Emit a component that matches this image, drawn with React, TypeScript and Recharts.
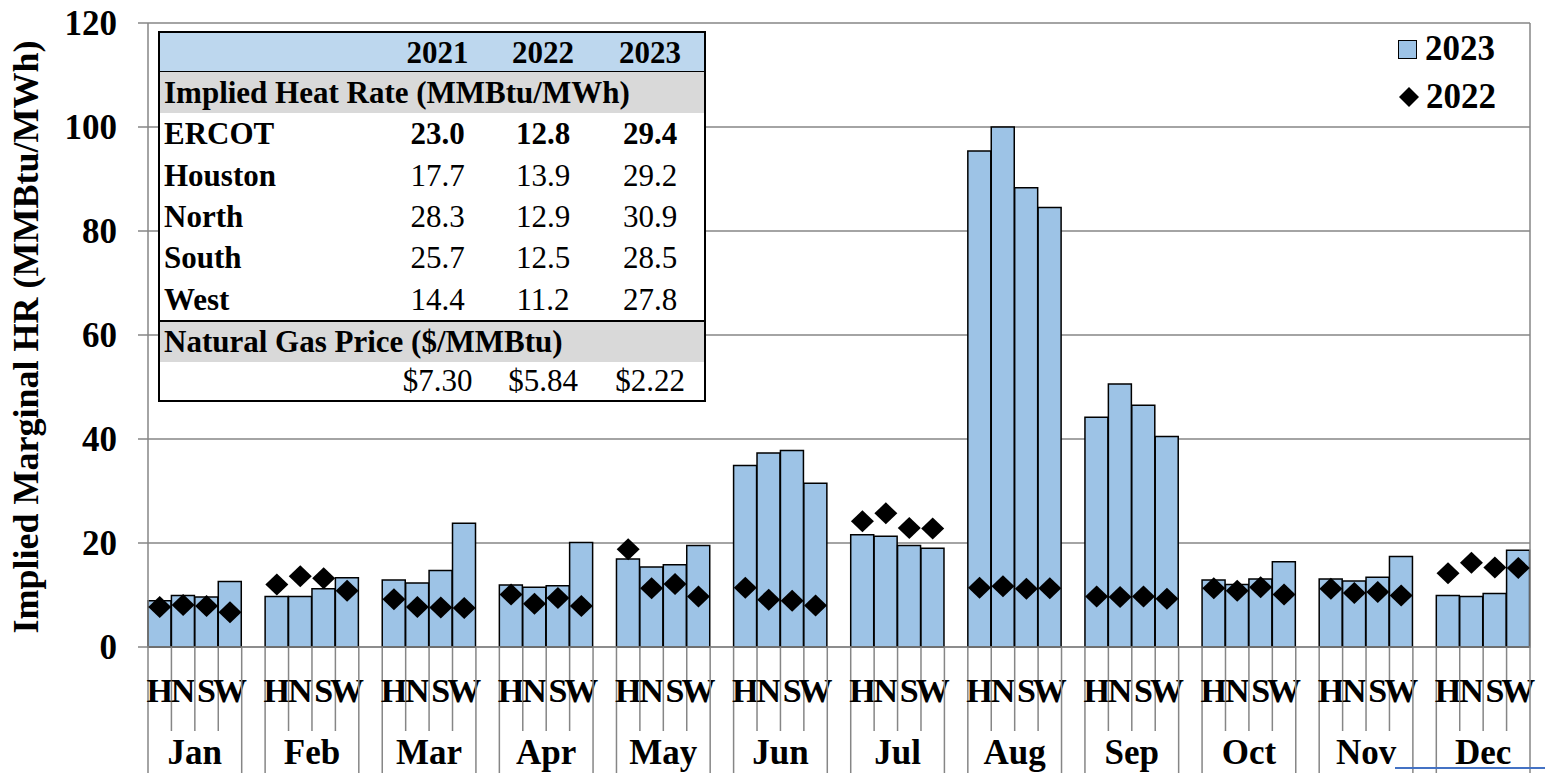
import React from 'react';
import {
  ComposedChart,
  Bar,
  Line,
  XAxis,
  YAxis,
  CartesianGrid,
  ReferenceLine,
  Legend,
  Label,
} from 'recharts';

const FONT = "'Liberation Serif', 'Times New Roman', serif";
const GRID = '#868686';

const months = ['Jan', 'Feb', 'Mar', 'Apr', 'May', 'Jun', 'Jul', 'Aug', 'Sep', 'Oct', 'Nov', 'Dec'];
const zones = ['H', 'N', 'S', 'W'];

// 2023 implied marginal heat rate (bars), one value per month
const houston2023 = [8.9, 9.7, 12.9, 11.9, 16.9, 34.9, 21.6, 95.4, 44.2, 12.9, 13.1, 9.9];
const north2023 = [9.9, 9.7, 12.3, 11.5, 15.4, 37.3, 21.3, 100.0, 50.6, 12.0, 12.7, 9.7];
const south2023 = [9.6, 11.2, 14.7, 11.8, 15.8, 37.8, 19.5, 88.3, 46.5, 13.1, 13.4, 10.3];
const west2023 = [12.6, 13.3, 23.8, 20.1, 19.5, 31.5, 19.0, 84.5, 40.5, 16.4, 17.4, 18.6];

// 2022 (diamonds)
const houston2022 = [7.7, 12.0, 9.2, 10.1, 18.8, 11.4, 24.2, 11.4, 9.7, 11.3, 11.2, 14.2];
const north2022 = [8.1, 13.6, 7.7, 8.3, 11.3, 9.1, 25.7, 11.7, 9.6, 10.8, 10.4, 16.2];
const south2022 = [7.9, 13.2, 7.6, 9.4, 12.1, 8.9, 22.9, 11.2, 9.7, 11.5, 10.6, 15.3];
const west2022 = [6.7, 10.8, 7.5, 7.9, 9.7, 8.0, 22.8, 11.3, 9.3, 10.1, 9.9, 15.2];

const yTicks = [0, 20, 40, 60, 80, 100, 120];

// summary table
const tableYears = ['2021', '2022', '2023'];
const tableRegions = ['ERCOT', 'Houston', 'North', 'South', 'West'];
const heatRates = [
  ['23.0', '12.8', '29.4'],
  ['17.7', '13.9', '29.2'],
  ['28.3', '12.9', '30.9'],
  ['25.7', '12.5', '28.5'],
  ['14.4', '11.2', '27.8'],
];
const gasPrices = ['$7.30', '$5.84', '$2.22'];

const values2023 = [houston2023, north2023, south2023, west2023];
const values2022 = [houston2022, north2022, south2022, west2022];

// 4 zone slots per month plus an empty spacer slot between months
const rows: { slot: number; hr2023: number | null; hr2022: number | null }[] = [];
months.forEach((_, mi) => {
  zones.forEach((_, zi) => {
    rows.push({ slot: mi * 5 + zi, hr2023: values2023[zi][mi], hr2022: values2022[zi][mi] });
  });
  if (mi < months.length - 1) rows.push({ slot: mi * 5 + 4, hr2023: null, hr2022: null });
});
const slotCount = rows.length;
const slotTicks = Array.from({ length: slotCount * 2 + 1 }, (_, i) => i / 2);

function SlotTick(props: any) {
  const { x, y, payload } = props;
  const v = payload.value as number;
  const k = Math.floor(v);
  const pos = k % 5;
  if (Number.isInteger(v)) {
    const edge = pos === 0 || pos === 4;
    const month = pos === 2 ? months[(k - 2) / 5] : null;
    return (
      <g>
        <line x1={x} x2={x} y1={y} y2={y + (edge ? 130 : 84)} stroke={GRID} strokeWidth={1.5} />
        {month && (
          <text x={x} y={y + 117} textAnchor="middle" fontFamily={FONT} fontWeight="bold" fontSize={35} fill="#000">
            {month}
          </text>
        )}
      </g>
    );
  }
  if (pos > 3) return <g />;
  return (
    <text x={x} y={y + 55} textAnchor="middle" fontFamily={FONT} fontWeight="bold" fontSize={34} fill="#000">
      {zones[pos]}
    </text>
  );
}

function DiamondDot(props: any) {
  const { cx, cy } = props;
  if (cx == null || cy == null || Number.isNaN(cy)) return <g />;
  return <path d={`M${cx},${cy - 11} L${cx + 11.5},${cy} L${cx},${cy + 11} L${cx - 11.5},${cy} Z`} fill="#000" />;
}

function LegendBox() {
  const text = { fontFamily: FONT, fontWeight: 'bold' as const, fontSize: 35, lineHeight: '48px' };
  return (
    <div>
      <div style={{ display: 'flex', alignItems: 'center' }}>
        <div style={{ width: 17, height: 17, background: '#9DC3E6', border: '1.5px solid #000', marginRight: 8 }} />
        <span style={text}>2023</span>
      </div>
      <div style={{ display: 'flex', alignItems: 'center' }}>
        <svg width={22} height={22} style={{ marginRight: 6 }}>
          <path d="M11,1 L21,11 L11,21 L1,11 Z" fill="#000" />
        </svg>
        <span style={text}>2022</span>
      </div>
    </div>
  );
}

function YTitle() {
  return (
    <text
      transform="translate(38,337) rotate(-90)"
      textAnchor="middle"
      fontFamily={FONT}
      fontWeight="bold"
      fontSize={36}
      fill="#000"
    >
      Implied Marginal HR (MMBtu/MWh)
    </text>
  );
}

function SummaryTable() {
  const cols = [105, 106, 108];
  const rowStyle = (h: number, bg = '#fff') => ({
    display: 'flex',
    alignItems: 'center',
    height: h,
    background: bg,
  });
  const valueCells = (vals: string[], bold: boolean) =>
    vals.map((v, i) => (
      <div key={i} style={{ width: cols[i], textAlign: 'center' as const, fontWeight: bold ? 'bold' : 'normal' }}>
        {v}
      </div>
    ));
  return (
    <div
      style={{
        position: 'absolute',
        left: 158,
        top: 31,
        width: 548,
        height: 371,
        boxSizing: 'border-box',
        border: '2px solid #000',
        background: '#fff',
        fontFamily: FONT,
        fontSize: 31,
        lineHeight: 1,
        color: '#000',
      }}
    >
      <div style={{ ...rowStyle(38, '#BDD7EE'), borderBottom: '1px solid #000' }}>
        <div style={{ width: 225 }} />
        {valueCells(tableYears, true)}
      </div>
      <div style={rowStyle(41, '#D9D9D9')}>
        <div style={{ paddingLeft: 4, fontWeight: 'bold' }}>Implied Heat Rate (MMBtu/MWh)</div>
      </div>
      {tableRegions.map((r, i) => (
        <div key={r} style={rowStyle(41.4)}>
          <div style={{ width: 221, paddingLeft: 4, fontWeight: 'bold' }}>{r}</div>
          {valueCells(heatRates[i], i === 0)}
        </div>
      ))}
      <div style={{ ...rowStyle(40, '#D9D9D9'), borderTop: '2px solid #000' }}>
        <div style={{ paddingLeft: 4, fontWeight: 'bold' }}>Natural Gas Price ($/MMBtu)</div>
      </div>
      <div style={rowStyle(38)}>
        <div style={{ width: 225 }} />
        {valueCells(gasPrices, false)}
      </div>
    </div>
  );
}

export default function App() {
  return (
    <div style={{ position: 'absolute', left: 0, top: 0, width: 1545, height: 773, background: '#fff', overflow: 'hidden' }}>
      <ComposedChart
        width={1545}
        height={773}
        data={rows}
        margin={{ top: 23, right: 15, left: 48, bottom: 0 }}
        barCategoryGap={0}
        barGap={0}
      >
        <CartesianGrid vertical={false} stroke={GRID} strokeWidth={1.5} />
        <XAxis dataKey="slot" type="category" hide height={0} />
        <XAxis
          xAxisId="n"
          dataKey="slot"
          type="number"
          domain={[0, slotCount]}
          allowDataOverflow
          ticks={slotTicks}
          interval={0}
          height={126}
          tickSize={0}
          tickMargin={0}
          tickLine={false}
          axisLine={{ stroke: GRID, strokeWidth: 1.5 }}
          tick={<SlotTick />}
        />
        <YAxis
          domain={[0, 120]}
          ticks={yTicks}
          interval={0}
          width={100}
          tickSize={10}
          tickMargin={21}
          axisLine={{ stroke: GRID, strokeWidth: 1.5 }}
          tickLine={{ stroke: GRID, strokeWidth: 1.5 }}
          tick={{ fontFamily: FONT, fontWeight: 'bold', fontSize: 35, fill: '#000' }}
        >
          <Label content={<YTitle />} />
        </YAxis>
        <ReferenceLine xAxisId="n" x={slotCount} stroke={GRID} strokeWidth={1.5} />
        <Bar dataKey="hr2023" name="2023" fill="#9DC3E6" stroke="#000" strokeWidth={1.5} isAnimationActive={false} />
        <Line
          dataKey="hr2022"
          name="2022"
          stroke="none"
          dot={<DiamondDot />}
          activeDot={false}
          isAnimationActive={false}
        />
        <Legend
          layout="vertical"
          align="center"
          verticalAlign="middle"
          wrapperStyle={{ top: 25, left: 1398, width: 130 }}
          content={<LegendBox />}
        />
      </ComposedChart>
      <SummaryTable />
      <div style={{ position: 'absolute', left: 1395, top: 767, width: 150, height: 2, background: '#4472C4' }} />
    </div>
  );
}
